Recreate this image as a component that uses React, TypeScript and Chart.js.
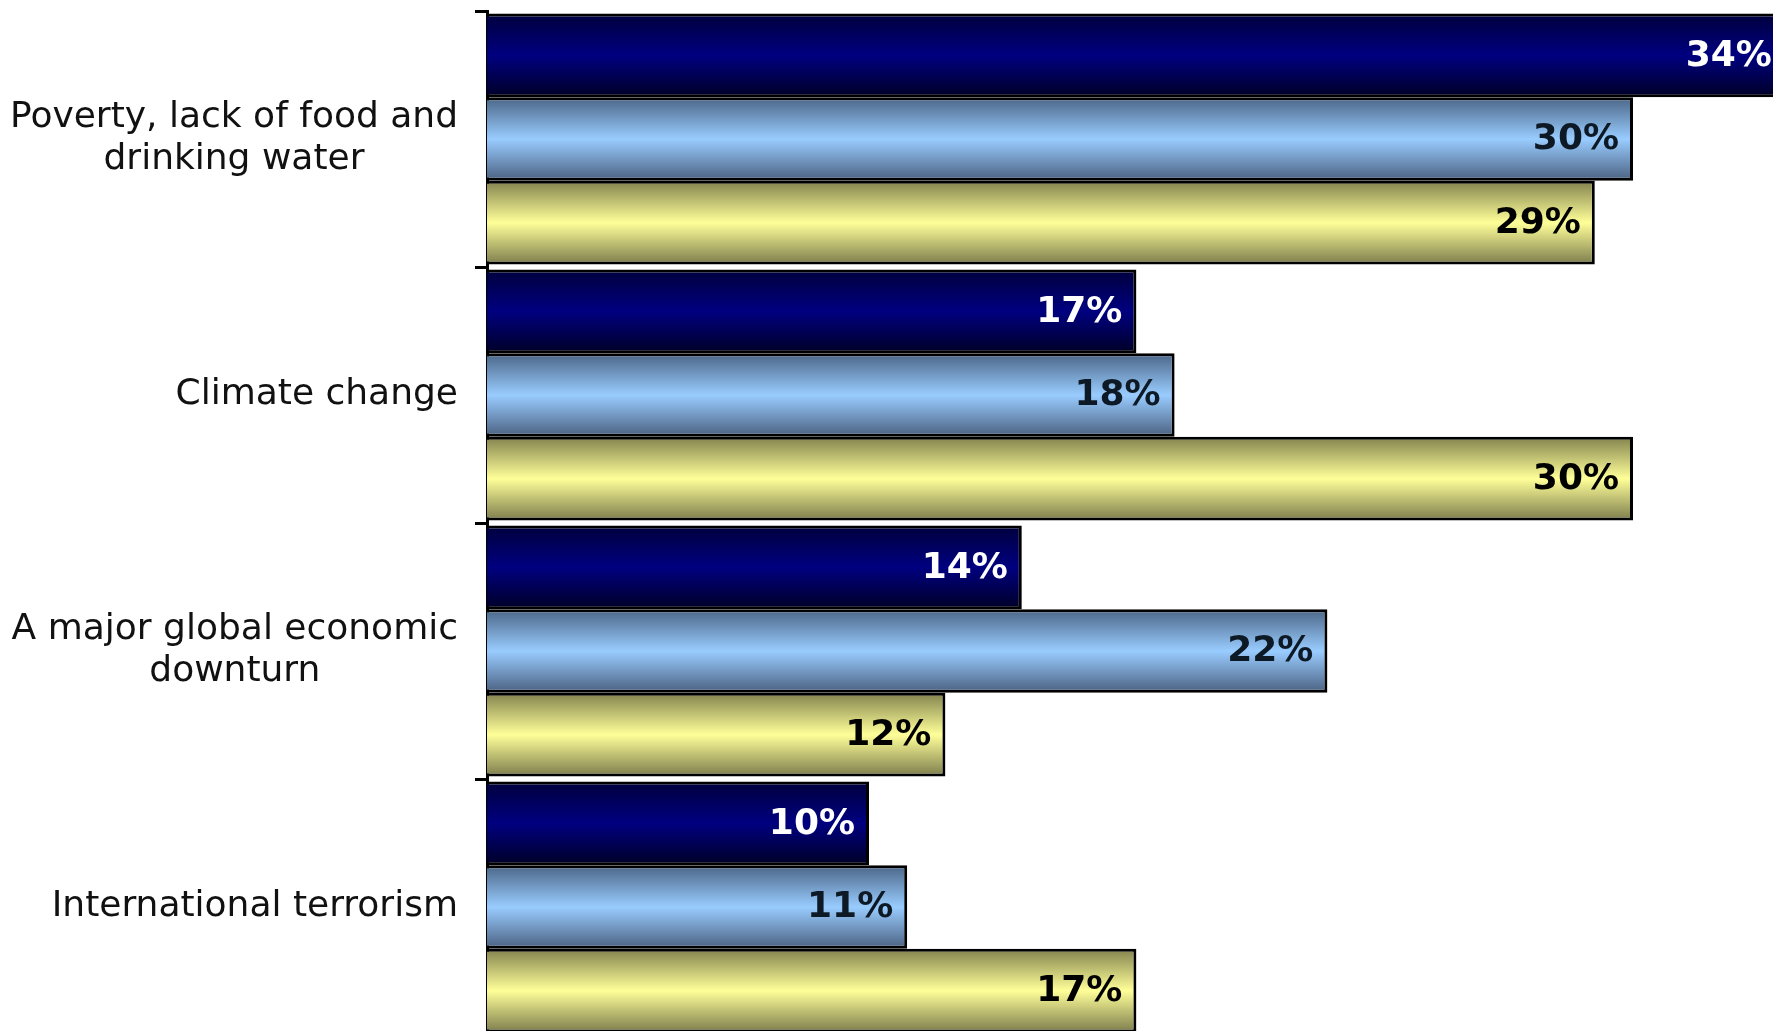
import React, { useEffect, useRef } from "react";
import { Chart, registerables } from "chart.js";

Chart.register(...registerables);

// ---- data ----
const categories: string[][] = [
  ["Poverty, lack of food and", "drinking water"],
  ["Climate change"],
  ["A major global economic", "downturn"],
  ["International terrorism"],
];
const series1: number[] = [34, 17, 14, 10];
const series2: number[] = [30, 18, 22, 11];
const series3: number[] = [29, 30, 12, 17];
const seriesNames: string[] = ["Series 1", "Series 2", "Series 3"];

// ---- styles ----
const gradientStops: string[][] = [
  ["#00003c", "#000080", "#000026"],
  ["#4a6585", "#99ccff", "#4a6080"],
  ["#82824e", "#ffff99", "#7c7c4c"],
];
const labelColors: string[] = ["#ffffff", "#0d1a26", "#000000"];
const CAT_PCT = 0.98;
const AXIS_LEFT = 487;
const X_MAX = 35;
const CANVAS_W = 1824;
const CANVAS_H = 1040;

function makeBg(di: number) {
  return (ctx: any) => {
    const chart = ctx.chart;
    const ys = chart.scales && chart.scales.y;
    const stops = gradientStops[di];
    if (!ys || ctx.dataIndex === undefined || ctx.type !== "data") return stops[1];
    const catH = Math.abs(ys.getPixelForValue(1) - ys.getPixelForValue(0));
    if (!isFinite(catH) || catH <= 0) return stops[1];
    const thick = (catH * CAT_PCT) / 3;
    const center = ys.getPixelForValue(ctx.dataIndex) + (di - 1) * thick;
    const g = chart.ctx.createLinearGradient(0, center - thick / 2, 0, center + thick / 2);
    g.addColorStop(0, stops[0]);
    g.addColorStop(0.5, stops[1]);
    g.addColorStop(1, stops[2]);
    return g;
  };
}

const valueLabelPlugin = {
  id: "valueLabels",
  afterDatasetsDraw(chart: any) {
    const ctx = chart.ctx;
    ctx.save();
    ctx.font = 'bold 36px "DejaVu Sans"';
    ctx.textAlign = "right";
    ctx.textBaseline = "middle";
    chart.data.datasets.forEach((ds: any, di: number) => {
      const meta = chart.getDatasetMeta(di);
      meta.data.forEach((el: any, i: number) => {
        const p = el.getProps(["x", "y"], true);
        ctx.fillStyle = labelColors[di];
        ctx.fillText(ds.data[i] + "%", p.x - 14, p.y + 1);
      });
    });
    ctx.restore();
  },
};

const categoryLabelPlugin = {
  id: "categoryLabels",
  afterDraw(chart: any) {
    const ctx = chart.ctx;
    const ys = chart.scales.y;
    ctx.save();
    ctx.font = '36px "DejaVu Sans"';
    ctx.fillStyle = "#111111";
    ctx.textAlign = "center";
    ctx.textBaseline = "middle";
    const lh = 42;
    const rightEdge = 458;
    categories.forEach((lines, i) => {
      const cy = ys.getPixelForValue(i);
      const maxW = Math.max(...lines.map((l) => ctx.measureText(l).width));
      const cx = rightEdge - maxW / 2;
      lines.forEach((l, k) => {
        ctx.fillText(l, cx, cy + (k - (lines.length - 1) / 2) * lh);
      });
    });
    ctx.restore();
  },
};

export default function App() {
  const ref = useRef<HTMLCanvasElement | null>(null);

  useEffect(() => {
    if (!ref.current) return;
    const allSeries = [series1, series2, series3];
    const chart = new Chart(ref.current, {
      type: "bar",
      data: {
        labels: categories.map((c) => c.join(" ")),
        datasets: allSeries.map((s, di) => ({
          label: seriesNames[di],
          data: s,
          backgroundColor: makeBg(di),
          borderColor: "#000000",
          borderWidth: 3,
          borderSkipped: "start",
          categoryPercentage: CAT_PCT,
          barPercentage: 1,
        })),
      },
      options: {
        indexAxis: "y",
        responsive: false,
        animation: false,
        devicePixelRatio: 1,
        layout: { padding: { top: 11, bottom: 5, left: 0, right: 0 } },
        plugins: {
          legend: { display: false },
          tooltip: { enabled: false },
          title: { display: false },
        },
        scales: {
          x: { display: false, min: 0, max: X_MAX },
          y: {
            type: "category",
            offset: true,
            grid: {
              offset: true,
              drawOnChartArea: false,
              drawTicks: true,
              tickLength: 12,
              color: "#000000",
              lineWidth: 3,
            },
            border: { display: true, color: "#000000", width: 3 },
            ticks: { display: false },
            afterFit: (s: any) => {
              s.width = AXIS_LEFT;
            },
          },
        },
      } as any,
      plugins: [valueLabelPlugin, categoryLabelPlugin],
    });
    return () => chart.destroy();
  }, []);

  return (
    <div
      style={{
        position: "absolute",
        left: 0,
        top: 0,
        width: 1773,
        height: 1031,
        overflow: "hidden",
        background: "#ffffff",
      }}
    >
      <canvas
        ref={ref}
        width={CANVAS_W}
        height={CANVAS_H}
        style={{ width: CANVAS_W, height: CANVAS_H, display: "block" }}
      />
    </div>
  );
}
